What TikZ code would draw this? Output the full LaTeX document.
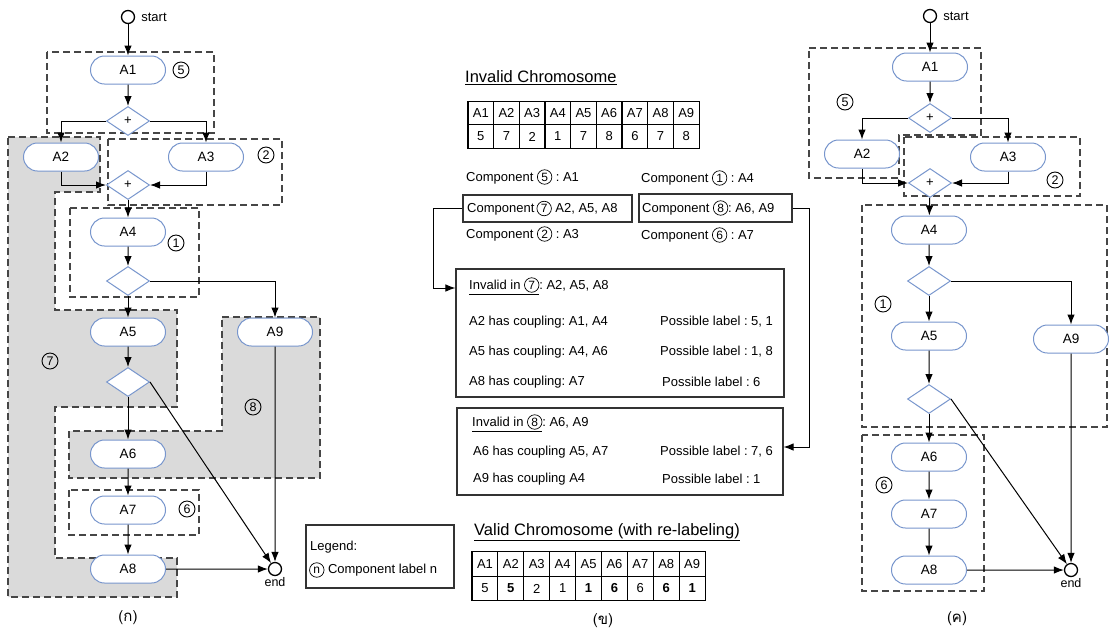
\documentclass[tikz,border=0pt]{standalone}
\usepackage{fontspec}
\setmainfont{Liberation Sans}
\newfontfamily\thaifont[Script=Thai]{Loma}
\usetikzlibrary{arrows.meta,shapes.geometric,shapes.misc}
\pgfdeclarelayer{bg}
\pgfsetlayers{bg,main}
\definecolor{pillblue}{RGB}{120,150,205}
\definecolor{grayfill}{RGB}{218,218,218}
\definecolor{dashcol}{RGB}{70,70,70}
\newcommand\cn[1]{\tikz[baseline=(cnx.base)]\node[circle,draw,line width=0.7pt,inner sep=0pt,minimum size=14.5pt,font=\fontsize{12}{12}\selectfont](cnx){#1};}
\frenchspacing
\begin{document}
\begin{tikzpicture}[x=1pt,y=-1pt,
  pill/.style={rounded rectangle, draw=pillblue, line width=1pt, fill=white, minimum width=75pt, minimum height=28pt, inner sep=0pt, font=\fontsize{13.5}{15}\selectfont},
  dia/.style={diamond, draw=pillblue, line width=1pt, fill=white, minimum width=43pt, minimum height=29pt, inner sep=0pt, font=\fontsize{13}{15}\selectfont},
  term/.style={circle, draw, line width=1.3pt, minimum size=13pt, inner sep=0pt, fill=white},
  cnode/.style={circle, draw, line width=0.9pt, minimum size=16pt, inner sep=0pt, font=\fontsize{12.5}{12.5}\selectfont},
  arr/.style={-{Latex[length=10pt,width=7.5pt]}, line width=1pt},
  dbox/.style={draw=dashcol, dash pattern=on 7pt off 4pt, line width=1.3pt},
  gbox/.style={dbox, fill=grayfill},
  txt/.style={anchor=west, inner sep=0pt, font=\fontsize{13}{15}\selectfont},
  ttl/.style={anchor=west, inner sep=0pt, font=\fontsize{16.5}{18}\selectfont},
  cell/.style={draw, line width=1.1pt, minimum width=25.7pt, minimum height=23.5pt, inner sep=0pt, font=\fontsize{13}{15}\selectfont},
  framebox/.style={draw=black!80, line width=1.1pt, inner sep=0pt},
  captxt/.style={inner sep=0pt, font=\thaifont\fontsize{15}{17}\selectfont}]
\useasboundingbox (0,0) rectangle (1110,633);

% ================= LEFT =================
\node[term, label={[txt,label distance=6pt]right:start}] (Lst) at (128,17) {};
\node[pill] (LA1) at (128,70) {A1};
\node[dia]  (Ld1) at (128,121) {+};
\node[pill] (LA2) at (61,157) {A2};
\node[pill] (LA3) at (206,157) {A3};
\node[dia]  (Ld2) at (128,185) {+};
\node[pill] (LA4) at (128,232) {A4};
\node[dia]  (Ld3) at (128,281) {};
\node[pill] (LA5) at (128,332) {A5};
\node[pill] (LA9) at (275,332) {A9};
\node[dia]  (Ld4) at (128,382) {};
\node[pill] (LA6) at (128,454) {A6};
\node[pill] (LA7) at (128,510) {A7};
\node[pill] (LA8) at (128,569) {A8};
\node[term, label={[inner sep=1pt,font=\fontsize{12.5}{14}\selectfont]below:end}] (Lend) at (275,569) {};

\node[cnode] (Lc5) at (181,70) {5};
\node[cnode] (Lc2) at (266,155) {2};
\node[cnode] (Lc1) at (176,243) {1};
\node[cnode] (Lc7) at (50,361) {7};
\node[cnode] (Lc8) at (253,407) {8};
\node[cnode] (Lc6) at (187,509) {6};

\begin{pgfonlayer}{bg}
  \path[gbox] (8,137) -- (100,137) -- (100,192) -- (55,192) -- (55,310) -- (177,310) -- (177,407) -- (55,407) -- (55,558) -- (177,558) -- (177,597) -- (8,597) -- cycle;
  \path[gbox] (222,317) -- (320,317) -- (320,478) -- (69,478) -- (69,431) -- (222,431) -- cycle;
  \draw[dbox] (47,52) rectangle (214,133);
  \draw[dbox] (108,139) rectangle (282,205);
  \draw[dbox] (70,208) rectangle (199,297);
  \draw[dbox] (69,490) rectangle (199,535);
\end{pgfonlayer}

\draw[arr] (Lst) -- (LA1);
\draw[arr] (LA1) -- (Ld1);
\draw[arr] (Ld1.west) -| (LA2.north);
\draw[arr] (Ld1.east) -| (LA3.north);
\draw[arr] (LA2.south) |- (Ld2.west);
\draw[arr] (LA3.south) |- (Ld2.east);
\draw[arr] (Ld2) -- (LA4);
\draw[arr] (LA4) -- (Ld3);
\draw[arr] (Ld3) -- (LA5);
\draw[arr] (Ld3.east) -| (LA9.north);
\draw[arr] (LA5) -- (Ld4);
\draw[arr] (Ld4) -- (LA6);
\draw[arr] (Ld4.east) -- (Lend);
\draw[arr] (LA6) -- (LA7);
\draw[arr] (LA7) -- (LA8);
\draw[arr] (LA8) -- (Lend);
\draw[arr] (LA9) -- (Lend);

\node[captxt] (capL) at (128,618) {(ก)};

% ================= MIDDLE =================
\node[ttl] (t1) at (465,78) {\underline{Invalid Chromosome}};
\foreach \n [count=\i] in {A1,A2,A3,A4,A5,A6,A7,A8,A9}
  \node[cell] (tah\i) at (468+25.67*\i-12.83,113) {\n};
\foreach \v [count=\i] in {5,7,2,1,7,8,6,7,8}
  \node[cell] (tav\i) at (468+25.67*\i-12.83,136.5) {\v};

\node[txt] (c5) at (466,177) {Component \cn{5} : A1};
\node[framebox, minimum width=169pt, minimum height=27pt] (c7) at (547.5,208.5) {};
\node[txt] (c7t) at (467,208.5) {Component\,\cn{7} A2, A5, A8};
\node[txt] (c2) at (466,234) {Component \cn{2} : A3};
\node[txt] (c1) at (641,178) {Component \cn{1} : A4};
\node[framebox, minimum width=153pt, minimum height=28pt] (c8) at (715.5,208) {};
\node[txt] (c8t) at (642,208) {Component \cn{8}: A6, A9};
\node[txt] (c6) at (641,235) {Component \cn{6} : A7};

\node[framebox, minimum width=328pt, minimum height=128pt] (inv7) at (620,333) {};
\node[txt] (i7a) at (469,286) {\underline{Invalid in \cn{7}}: A2, A5, A8};
\node[txt] (i7b) at (469,322) {A2 has coupling: A1, A4};
\node[txt] (i7c) at (660,322) {Possible label : 5, 1};
\node[txt] (i7d) at (469,352) {A5 has coupling: A4, A6};
\node[txt] (i7e) at (660,352) {Possible label : 1, 8};
\node[txt] (i7f) at (469,382) {A8 has coupling: A7};
\node[txt] (i7g) at (662,382) {Possible label : 6};

\node[framebox, minimum width=326pt, minimum height=87pt] (inv8) at (620,451.5) {};
\node[txt] (i8a) at (472,423) {\underline{Invalid in \cn{8}}: A6, A9};
\node[txt] (i8b) at (473,452) {A6 has coupling A5, A7};
\node[txt] (i8c) at (660,452) {Possible label : 7, 6};
\node[txt] (i8d) at (473,479) {A9 has coupling A4};
\node[txt] (i8e) at (662,479) {Possible label : 1};

\coordinate (k1) at (433,288);
\coordinate (k2) at (809,447);
\draw[arr] (c7.west) -| (k1) -- (inv7.west |- k1);
\draw[arr] (c8.east) -| (k2) -- (inv8.east |- k2);

\node[framebox, minimum width=148pt, minimum height=63pt] (leg) at (380,556.5) {};
\node[txt] (leg1) at (310,547) {Legend:};
\node[txt] (leg2) at (309,570) {\cn{n} Component label n};

\node[ttl] (t2) at (474,532) {\underline{Valid Chromosome (with re-labeling)}};
\foreach \n [count=\i] in {A1,A2,A3,A4,A5,A6,A7,A8,A9}
  \node[cell, minimum width=25.9pt, minimum height=24.5pt] (tbh\i) at (472+25.9*\i-12.95,564) {\n};
\foreach \v [count=\i] in {5,\textbf{5},2,1,\textbf{1},\textbf{6},6,\textbf{6},\textbf{1}}
  \node[cell, minimum width=25.9pt, minimum height=24.5pt] (tbv\i) at (472+25.9*\i-12.95,588.5) {\v};

\node[captxt] (capM) at (603,621) {(ข)};

% ================= RIGHT =================
\node[term, label={[txt,label distance=6pt]right:start}] (Rst) at (930,16) {};
\node[pill] (RA1) at (930,67) {A1};
\node[dia]  (Rd1) at (930,118) {+};
\node[pill] (RA2) at (862,154) {A2};
\node[pill] (RA3) at (1008,157) {A3};
\node[dia]  (Rd2) at (930,183) {+};
\node[pill] (RA4) at (929,230) {A4};
\node[dia]  (Rd3) at (929,281) {};
\node[pill] (RA5) at (929,336) {A5};
\node[pill] (RA9) at (1071,339) {A9};
\node[dia]  (Rd4) at (929,399) {};
\node[pill] (RA6) at (929,457) {A6};
\node[pill] (RA7) at (929,514) {A7};
\node[pill] (RA8) at (929,570) {A8};
\node[term, label={[inner sep=1pt,font=\fontsize{12.5}{14}\selectfont]below:end}] (Rend) at (1071,570) {};

\node[cnode] (Rc5) at (845,102) {5};
\node[cnode] (Rc2) at (1055,180) {2};
\node[cnode] (Rc1) at (883,304) {1};
\node[cnode] (Rc6) at (884,485) {6};

\begin{pgfonlayer}{bg}
  \draw[dbox] (809,48) -- (981,48) -- (981,135) -- (899,135) -- (899,178) -- (809,178) -- cycle;
  \draw[dbox] (904,137) rectangle (1080,196);
  \draw[dbox] (862,205) rectangle (1107,427);
  \draw[dbox] (862,435) rectangle (984,591);
\end{pgfonlayer}

\draw[arr] (Rst) -- (RA1);
\draw[arr] (RA1) -- (Rd1);
\draw[arr] (Rd1.west) -| (RA2.north);
\draw[arr] (Rd1.east) -| (RA3.north);
\draw[arr] (RA2.south) |- (Rd2.west);
\draw[arr] (RA3.south) |- (Rd2.east);
\draw[arr] (Rd2) -- (RA4);
\draw[arr] (RA4) -- (Rd3);
\draw[arr] (Rd3) -- (RA5);
\draw[arr] (Rd3.east) -| (RA9.north);
\draw[arr] (RA5) -- (Rd4);
\draw[arr] (Rd4) -- (RA6);
\draw[arr] (Rd4.east) -- (Rend);
\draw[arr] (RA6) -- (RA7);
\draw[arr] (RA7) -- (RA8);
\draw[arr] (RA8) -- (Rend);
\draw[arr] (RA9) -- (Rend);

\node[captxt] (capR) at (957,619) {(ค)};
\end{tikzpicture}
\end{document}
